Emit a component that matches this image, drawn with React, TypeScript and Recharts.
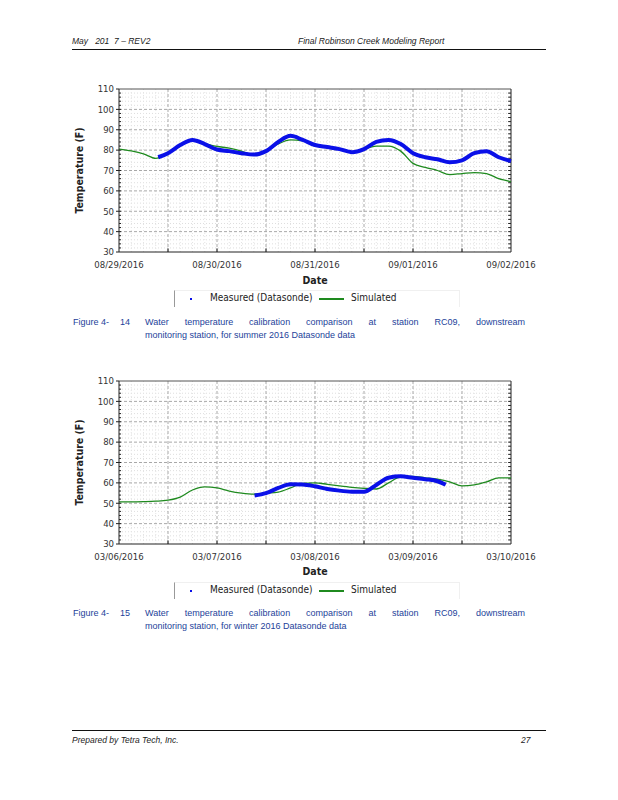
import React from "react";
import { LineChart, Line, XAxis, YAxis, ReferenceLine } from "recharts";

// summer run, hours from 08/29/2016 00:00
const SUMMER_HOURS = [0, 3, 6, 9, 12, 15, 18, 21, 24, 27, 30, 33, 36, 39, 42, 45, 48, 51, 54, 57, 60, 63, 66, 69, 72, 75, 78, 81, 84, 87, 90, 93, 96];
const SUMMER_SIM = [80.5, 79.6, 78.2, 76.0, 78.5, 82.0, 84.8, 83.2, 81.8, 81.0, 79.5, 77.5, 79.5, 83.0, 85.0, 84.5, 82.0, 81.5, 80.7, 79.0, 80.5, 82.0, 82.0, 79.5, 73.5, 71.5, 70.0, 68.0, 68.5, 69.0, 68.5, 66.0, 64.5];
const SUMMER_MEAS_HOURS = [9.6, 12, 15, 18, 21, 24, 27, 30, 33, 36, 39, 42, 45, 48, 51, 54, 57, 60, 63, 66, 69, 72, 75, 78, 81, 84, 87, 90, 93, 96];
const SUMMER_MEAS = [76.5, 78.5, 82.5, 85.0, 83.0, 80.3, 79.5, 78.5, 77.8, 79.5, 84.0, 87.0, 85.0, 82.5, 81.5, 80.5, 79.0, 80.5, 84.0, 85.0, 83.0, 78.5, 76.5, 75.5, 74.0, 75.0, 78.5, 79.5, 76.5, 74.6];
const SUMMER_DATES = ["08/29/2016", "08/30/2016", "08/31/2016", "09/01/2016", "09/02/2016"];

// winter run, hours from 03/06/2016 00:00
const WINTER_HOURS = [0, 3, 6, 9, 12, 15, 18, 21, 24, 27, 30, 33, 36, 39, 42, 45, 48, 51, 54, 57, 60, 63, 66, 69, 72, 75, 78, 81, 84, 87, 90, 93, 96];
const WINTER_SIM = [50.7, 50.7, 50.8, 51.0, 51.5, 53.0, 56.5, 58.0, 57.5, 56.0, 55.0, 54.5, 55.0, 55.5, 57.5, 59.8, 60.0, 59.3, 58.5, 57.8, 57.3, 57.0, 60.0, 63.0, 63.2, 62.5, 61.8, 60.5, 58.5, 59.0, 60.5, 62.5, 62.5];
const WINTER_MEAS_HOURS = [33.2, 36, 39, 42, 45, 48, 51, 54, 57, 60, 63, 66, 69, 72, 75, 78, 80];
const WINTER_MEAS = [53.8, 55.0, 57.5, 59.3, 59.2, 58.3, 57.0, 56.2, 55.7, 55.6, 59.0, 62.5, 63.2, 62.5, 61.8, 60.8, 59.1];
const WINTER_DATES = ["03/06/2016", "03/07/2016", "03/08/2016", "03/09/2016", "03/10/2016"];

const Y_TICKS = [30, 40, 50, 60, 70, 80, 90, 100, 110];
const DAY_TICKS = [0, 24, 48, 72, 96];
const HALF_DAY_TICKS = [0, 12, 24, 36, 48, 60, 72, 84, 96];

const range = (from: number, to: number, step: number) => {
  const out: number[] = [];
  for (let v = from; v <= to; v += step) out.push(v);
  return out;
};
const Y_MINOR = range(32, 108, 2).filter((v) => v % 10 !== 0);
const X_MINOR = range(3, 93, 3).filter((v) => v % 12 !== 0);
const Y_SMALL_TICKS = range(32, 108, 2);

const BLUE = "#0a10e8";
const GREEN = "#1f8a1f";
const AXIS = "#222";
const CHART_FONT = "'DejaVu Sans Condensed', 'DejaVu Sans', sans-serif";
const DOC_FONT = "'Liberation Sans Narrow', 'Liberation Sans', Arial, sans-serif";

function toPoints(hours: number[], vals: number[]) {
  return hours.map((h, i) => ({ h, v: vals[i] }));
}

function TempChart({ top, hours, sim, measHours, meas, dates }: any) {
  const simData = toPoints(hours, sim);
  const measData = toPoints(measHours, meas);
  const tickStyle = { fontSize: 9.5, fill: "#333", fontFamily: CHART_FONT };
  const ids = { xAxisId: "main", yAxisId: "main" };
  return (
    <div style={{ position: "absolute", left: 0, top }}>
      <LineChart width={618} height={206} margin={{ top: 19, right: 107, left: 79, bottom: 4 }}>
        {/* minor grid */}
        {Y_MINOR.map((v) => (
          <ReferenceLine key={"ym" + v} {...ids} y={v} stroke="#dedede" strokeDasharray="1 2" />
        ))}
        {X_MINOR.map((v) => (
          <ReferenceLine key={"xm" + v} {...ids} x={v} stroke="#e4e4e4" strokeDasharray="1 2" />
        ))}
        {/* major grid */}
        {Y_TICKS.slice(1, -1).map((v) => (
          <ReferenceLine key={"y" + v} {...ids} y={v} stroke="#a8a8a8" strokeDasharray="3 2" />
        ))}
        {HALF_DAY_TICKS.slice(1, -1).map((v) => (
          <ReferenceLine key={"x" + v} {...ids} x={v} stroke="#a8a8a8" strokeDasharray="3 2" />
        ))}
        {/* frame: top and right */}
        <ReferenceLine {...ids} y={110} stroke="#555" />
        <ReferenceLine {...ids} x={96} stroke={AXIS} />
        {/* inward tick marks */}
        {Y_SMALL_TICKS.map((v) => (
          <ReferenceLine key={"tr" + v} {...ids} segment={[{ x: 95.3, y: v }, { x: 96, y: v }]} stroke={AXIS} />
        ))}
        {Y_SMALL_TICKS.map((v) => (
          <ReferenceLine key={"tl" + v} {...ids} segment={[{ x: 0, y: v }, { x: 0.5, y: v }]} stroke={AXIS} />
        ))}
        {HALF_DAY_TICKS.slice(1, -1).map((v) => (
          <ReferenceLine key={"tb" + v} {...ids} segment={[{ x: v, y: 30 }, { x: v, y: 31.8 }]} stroke={AXIS} />
        ))}
        <XAxis
          xAxisId="main"
          dataKey="h"
          type="number"
          domain={[0, 96]}
          ticks={DAY_TICKS}
          tickFormatter={(v: number) => dates[DAY_TICKS.indexOf(v)] ?? ""}
          tick={tickStyle}
          tickLine={false}
          tickMargin={3}
          axisLine={{ stroke: AXIS }}
          height={20}
          interval={0}
        />
        <YAxis
          yAxisId="main"
          type="number"
          domain={[30, 110]}
          ticks={Y_TICKS}
          tick={tickStyle}
          tickSize={3}
          tickMargin={2}
          tickLine={{ stroke: AXIS }}
          axisLine={{ stroke: AXIS }}
          width={40}
          interval={0}
          label={{
            value: "Temperature (F)",
            angle: -90,
            position: "insideLeft",
            offset: 0,
            style: { textAnchor: "middle", fontSize: 10.5, fontWeight: 700, fill: "#222", fontFamily: CHART_FONT },
          }}
        />
        <Line
          {...ids}
          data={simData}
          dataKey="v"
          type="monotone"
          stroke={GREEN}
          strokeWidth={1.3}
          dot={false}
          isAnimationActive={false}
        />
        <Line
          {...ids}
          data={measData}
          dataKey="v"
          type="monotone"
          stroke={BLUE}
          strokeWidth={4}
          dot={false}
          isAnimationActive={false}
        />
      </LineChart>
    </div>
  );
}

function ChartLegend({ top }: { top: number }) {
  return (
    <div
      style={{
        position: "absolute",
        left: 174,
        top,
        width: 284,
        height: 16,
        borderLeft: "1px solid #999",
        borderTop: "1px solid #f0f0f0",
        borderRight: "1px solid #f0f0f0",
        fontFamily: CHART_FONT,
        fontSize: 10,
        color: "#222",
      }}
    >
      <span style={{ position: "absolute", left: 15, top: 7, width: 2, height: 2, background: BLUE }} />
      <span style={{ position: "absolute", left: 35, top: 1 }}>Measured (Datasonde)</span>
      <span style={{ position: "absolute", left: 144, top: 7, width: 25, height: 2, background: GREEN }} />
      <span style={{ position: "absolute", left: 176, top: 1 }}>Simulated</span>
    </div>
  );
}

function Caption({ top, num, text, last }: { top: number; num: string; text: string; last: string }) {
  const style: React.CSSProperties = { position: "absolute", fontFamily: DOC_FONT, fontSize: 9, color: "#1d3f9a", lineHeight: "14px" };
  return (
    <>
      <div style={{ ...style, left: 73, top }}>Figure 4-</div>
      <div style={{ ...style, left: 120, top }}>{num}</div>
      <div style={{ ...style, left: 145, top, width: 380, textAlign: "justify", textAlignLast: "justify" }}>{text}</div>
      <div style={{ ...style, left: 145, top: top + 13 }}>{last}</div>
    </>
  );
}

export default function App() {
  const docText: React.CSSProperties = { position: "absolute", fontFamily: DOC_FONT, fontStyle: "italic", fontSize: 8.5, color: "#222" };
  return (
    <div style={{ position: "absolute", left: 0, top: 0, width: 618, height: 800, background: "#fff", overflow: "hidden" }}>
      <div style={{ ...docText, left: 72, top: 36 }}>May&nbsp;&nbsp; 201&nbsp; 7 – REV2</div>
      <div style={{ ...docText, left: 298, top: 36 }}>Final Robinson Creek Modeling Report</div>
      <div style={{ position: "absolute", left: 72, top: 49, width: 474, height: 1, background: "#111" }} />

      <TempChart top={70} hours={SUMMER_HOURS} sim={SUMMER_SIM} measHours={SUMMER_MEAS_HOURS} meas={SUMMER_MEAS} dates={SUMMER_DATES} />
      <div style={{ position: "absolute", left: 290, top: 274, width: 50, textAlign: "center", fontFamily: CHART_FONT, fontSize: 10.5, fontWeight: 700, color: "#222" }}>Date</div>
      <ChartLegend top={290} />
      <Caption
        top={315}
        num="14"
        text="Water temperature calibration comparison at station RC09, downstream"
        last="monitoring station, for summer 2016 Datasonde data"
      />

      <TempChart top={362} hours={WINTER_HOURS} sim={WINTER_SIM} measHours={WINTER_MEAS_HOURS} meas={WINTER_MEAS} dates={WINTER_DATES} />
      <div style={{ position: "absolute", left: 290, top: 565, width: 50, textAlign: "center", fontFamily: CHART_FONT, fontSize: 10.5, fontWeight: 700, color: "#222" }}>Date</div>
      <ChartLegend top={582} />
      <Caption
        top={606}
        num="15"
        text="Water temperature calibration comparison at station RC09, downstream"
        last="monitoring station, for winter 2016 Datasonde data"
      />

      <div style={{ position: "absolute", left: 72, top: 730, width: 474, height: 1, background: "#111" }} />
      <div style={{ ...docText, left: 72, top: 735 }}>Prepared by Tetra Tech, Inc.</div>
      <div style={{ ...docText, left: 521, top: 735 }}>27</div>
    </div>
  );
}
